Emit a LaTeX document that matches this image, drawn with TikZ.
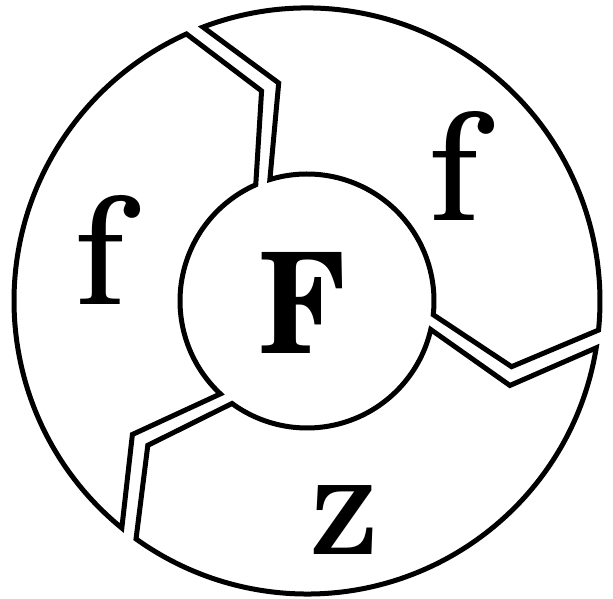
\documentclass[tikz,border=0pt]{standalone}
\usepackage{fontspec}
\newfontfamily\sch{TeX Gyre Schola}
\begin{document}
\begin{tikzpicture}[x=1pt,y=1pt,
  region/.style={draw=black, line width=5pt, line join=miter},
  letter/.style={inner sep=0pt, font=\sch\fontsize{148}{148}\selectfont},
  bigletter/.style={inner sep=0pt, font=\sch\fontsize{140}{140}\selectfont\bfseries, xscale=0.86}]
\useasboundingbox (0,0) rectangle (613,599);
\begin{scope}[shift={(307,298)}]
\foreach \a in {0,120,240}{
  \draw[region, rotate=\a] (110.8:293) arc[start angle=110.8, end angle=-5.7, radius=293]
    -- (-17.8:214.9) -- (-6.2:127) arc[start angle=-6.2, end angle=107, radius=127]
    -- (97.4:219.8) -- cycle;
}
\end{scope}
\node[bigletter] (F) at (302.5,296) {F};
\node[letter] (f1) at (101,349) {f};
\node[letter] (f2) at (455.5,433) {f};
\node[letter] (z) at (344.5,78.5) {z};
\end{tikzpicture}
\end{document}
